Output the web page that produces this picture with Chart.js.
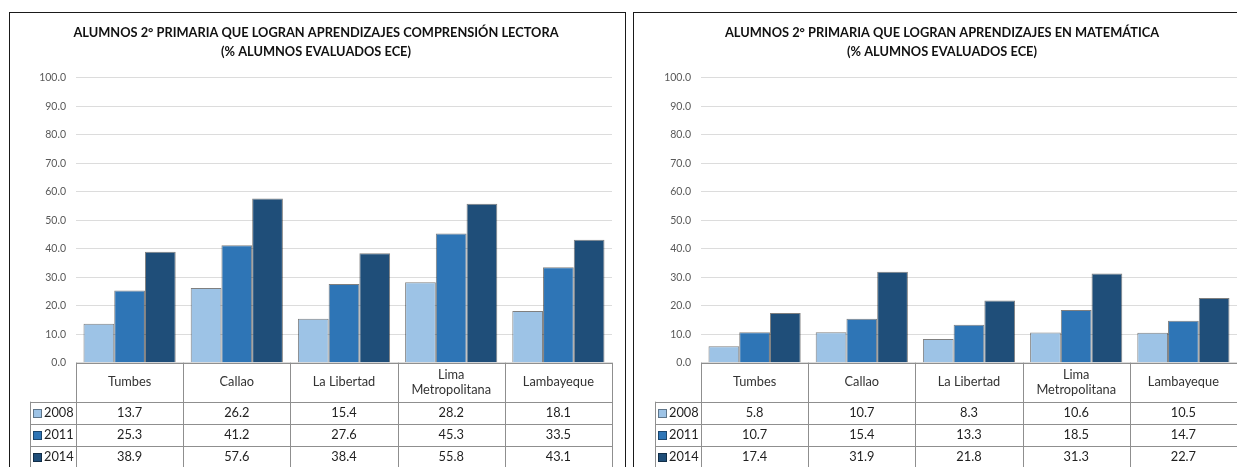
<!DOCTYPE html>
<html>
<head>
<meta charset="utf-8">
<script src="https://cdn.jsdelivr.net/npm/chart.js@4.4.1/dist/chart.umd.min.js"></script>
<style>
  html, body { margin: 0; padding: 0; background: #fff; width: 1237px; height: 467px; overflow: hidden; }
  .frame { position: absolute; top: 12px; height: 520px; border: 1px solid #1a1a1a; background: #fff; }
  #f1 { left: 9px; width: 615px; }
  #f2 { left: 633px; width: 700px; }
  canvas { position: absolute; top: 0; }
  #c1 { left: 0; }
  #c2 { left: 628px; }
</style>
</head>
<body>
<div class="frame" id="f1"></div>
<div class="frame" id="f2"></div>
<canvas id="c1" width="628" height="467"></canvas>
<canvas id="c2" width="609" height="467"></canvas>
<script>
// Regions shown on both charts
const categories = ['Tumbes', 'Callao', 'La Libertad', ['Lima', 'Metropolitana'], 'Lambayeque'];
const years = ['2008', '2011', '2014'];

// Comprensión lectora (% alumnos evaluados ECE)
const lectura2008 = [13.7, 26.2, 15.4, 28.2, 18.1];
const lectura2011 = [25.3, 41.2, 27.6, 45.3, 33.5];
const lectura2014 = [38.9, 57.6, 38.4, 55.8, 43.1];

// Matemática (% alumnos evaluados ECE)
const mate2008 = [5.8, 10.7, 8.3, 10.6, 10.5];
const mate2011 = [10.7, 15.4, 13.3, 18.5, 14.7];
const mate2014 = [17.4, 31.9, 21.8, 31.3, 22.7];

// Value axis
const yMin = 0, yMax = 100, yStep = 10;

const titleLectura = ['ALUMNOS 2° PRIMARIA QUE LOGRAN APRENDIZAJES COMPRENSIÓN LECTORA', '(% ALUMNOS EVALUADOS ECE)'];
const titleMate = ['ALUMNOS 2° PRIMARIA QUE LOGRAN APRENDIZAJES EN MATEMÁTICA', '(% ALUMNOS EVALUADOS ECE)'];

const yearColors = ['#9DC3E6', '#2E75B6', '#1F4E79'];
const FONT = 'Lato, "Open Sans", sans-serif';

// Title and data table drawn under the plot, aligned to the category scale
const tablePlugin = {
  id: 'dataTable',
  afterDraw(chart, args, opts) {
    const ctx = chart.ctx;
    const a = chart.chartArea;
    const xs = chart.scales.x;
    const n = chart.data.labels.length;
    const colW = (a.right - a.left) / n;
    const headH = 39, rowH = 22, legW = 46;
    const top = a.bottom, headBot = top + headH, legL = a.left - legW;
    const H = chart.height;
    const px = v => Math.round(v) + 0.5;

    ctx.save();
    // title
    ctx.fillStyle = '#111';
    ctx.font = 'bold 12.8px ' + FONT;
    ctx.textAlign = 'center';
    ctx.textBaseline = 'middle';
    opts.title.forEach((t, i) => ctx.fillText(t, opts.titleX, 33 + i * 19));

    // grid of the table
    ctx.strokeStyle = '#8F8F8F';
    ctx.lineWidth = 1;
    ctx.beginPath();
    ctx.moveTo(a.left, px(top)); ctx.lineTo(a.right, px(top));
    for (let r = 0; r <= chart.data.datasets.length; r++) {
      const y = px(headBot + r * rowH);
      ctx.moveTo(legL, y); ctx.lineTo(a.right, y);
    }
    for (let i = 0; i <= n; i++) {
      const x = px(a.left + i * colW);
      ctx.moveTo(x, top); ctx.lineTo(x, H);
    }
    ctx.moveTo(px(legL), headBot); ctx.lineTo(px(legL), H);
    ctx.stroke();

    // category header
    ctx.font = '12.8px ' + FONT;
    ctx.fillStyle = '#333';
    chart.data.labels.forEach((lab, i) => {
      const cx = xs.getPixelForValue(i);
      const lines = Array.isArray(lab) ? lab : [lab];
      const cy = top + headH / 2;
      lines.forEach((t, k) => ctx.fillText(t, cx, cy + (k - (lines.length - 1) / 2) * 15));
    });

    // rows: legend key + values
    chart.data.datasets.forEach((ds, r) => {
      const cy = headBot + r * rowH + rowH / 2 + 0.5;
      ctx.fillStyle = ds.backgroundColor;
      ctx.fillRect(legL + 3, Math.round(cy) - 4, 9, 9);
      ctx.strokeStyle = 'rgba(0,0,0,0.4)';
      ctx.strokeRect(legL + 3.5, Math.round(cy) - 3.5, 8, 8);
      ctx.fillStyle = '#1f1f1f';
      ctx.textAlign = 'left';
      ctx.fillText(ds.label, legL + 14, cy);
      ctx.textAlign = 'center';
      ds.data.forEach((v, i) => ctx.fillText(v.toFixed(1), xs.getPixelForValue(i), cy));
    });
    ctx.restore();
  }
};

function makeChart(id, seriesList, title, titleX, padLeft, padRight) {
  return new Chart(document.getElementById(id), {
    type: 'bar',
    data: {
      labels: categories,
      datasets: seriesList.map((d, k) => ({
        label: years[k],
        data: d,
        backgroundColor: yearColors[k],
        borderColor: 'rgba(0,0,0,0.5)',
        borderWidth: 1,
        categoryPercentage: 0.86,
        barPercentage: 1.0
      }))
    },
    options: {
      responsive: false,
      animation: false,
      devicePixelRatio: 1,
      layout: { padding: { top: 77.7, bottom: 467 - 362.7, left: 0, right: padRight } },
      plugins: {
        legend: { display: false },
        tooltip: { enabled: false },
        title: { display: false },
        dataTable: { title: title, titleX: titleX }
      },
      scales: {
        x: { display: false },
        y: {
          min: yMin, max: yMax,
          afterFit(scale) { scale.width = padLeft; },
          border: { display: false },
          grid: { color: '#DCDCDC', drawTicks: false },
          ticks: {
            stepSize: yStep,
            padding: 10,
            color: '#595959',
            font: { family: FONT, size: 10.5 },
            callback: v => Number(v).toFixed(1)
          }
        }
      }
    },
    plugins: [tablePlugin]
  });
}

makeChart('c1', [lectura2008, lectura2011, lectura2014], titleLectura, 316, 76, 628 - 612);
makeChart('c2', [mate2008, mate2011, mate2014], titleMate, 942 - 628, 701 - 628, 609 - 1236.5);
</script>
</body>
</html>
